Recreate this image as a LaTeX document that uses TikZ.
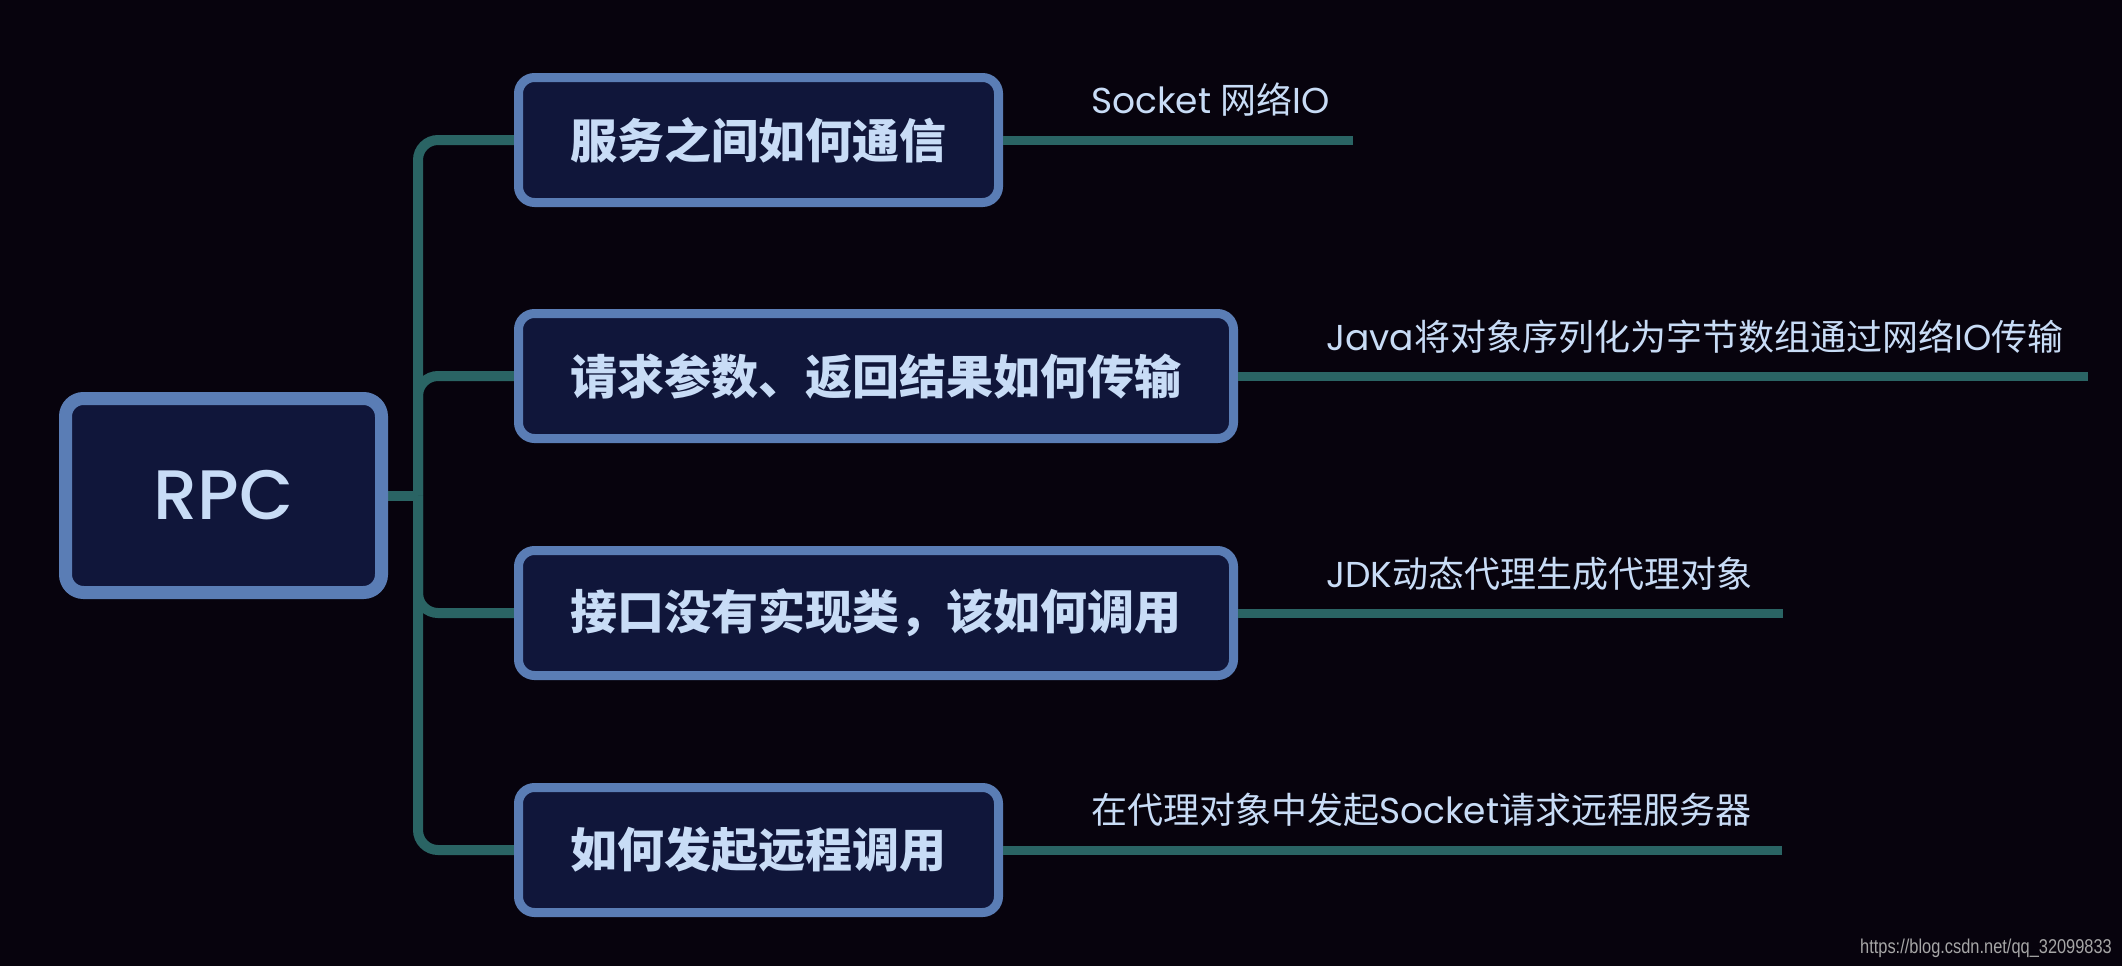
\documentclass[tikz,border=0pt]{standalone}
\usepackage{fontspec}
\setmainfont{Poppins}
\newfontfamily\rootfont{Poppins Medium}
\newfontfamily\cjk{Noto Sans CJK SC}
\newfontfamily\webfont{Liberation Sans}
\usetikzlibrary{backgrounds}
\definecolor{bgcol}{HTML}{07030D}
\definecolor{boxfill}{HTML}{10163A}
\definecolor{boxline}{HTML}{5A7DB5}
\definecolor{linkcol}{HTML}{2A6464}
\definecolor{txtcol}{HTML}{C8DCF6}
\newcommand{\zh}[1]{{\cjk #1}}
\begin{document}
\begin{tikzpicture}[
  x=1pt, y=-1pt,
  topic/.style={draw=boxline, fill=boxfill, line width=9pt, rounded corners=16pt,
    minimum height=125pt, text=txtcol, inner sep=0pt,
    font=\cjk\bfseries\fontsize{47}{56}\selectfont},
  root/.style={draw=boxline, fill=boxfill, line width=13pt, rounded corners=18pt,
    minimum width=316pt, minimum height=194pt, text=txtcol,
    font=\rootfont\fontsize{70}{80}\selectfont},
  branch/.style={draw=linkcol, line width=10pt, rounded corners=20pt},
  leaf/.style={draw=linkcol, line width=9pt},
  note/.style={anchor=base west, text=txtcol, inner sep=0pt,
    font=\fontsize{36}{42}\selectfont}
]
% Background
\begin{scope}[on background layer]
\fill[bgcol] (0,0) rectangle (2122,966);
\end{scope}

% Root
\node[root] (rpc) at (223.5,495.5) {RPC};

% Topics
\node[topic, minimum width=480pt] (b1) at (758.5,140) {服务之间如何通信};
\node[topic, minimum width=715pt] (b2) at (876,376) {请求参数、返回结果如何传输};
\node[topic, minimum width=715pt] (b3) at (876,613) {接口没有实现类，该如何调用};
\node[topic, minimum width=480pt] (b4) at (758.5,850) {如何发起远程调用};

% Trunk and branches
\coordinate (trunk) at (418,495.5);
\begin{scope}[on background layer]
\draw[branch] (rpc.east) -- (trunk);
\foreach \b in {b1,b2,b3,b4} {
  \draw[branch] (trunk) |- (\b.west);
}
\end{scope}

% Answers
\coordinate (e1) at (1353,140);
\coordinate (e2) at (2088,376);
\coordinate (e3) at (1783,613);
\coordinate (e4) at (1782,850);
\draw[leaf] (b1.east) -- (e1);
\draw[leaf] (b2.east) -- (e2);
\draw[leaf] (b3.east) -- (e3);
\draw[leaf] (b4.east) -- (e4);

\node[note] (l1) at (1091,113) {Socket \zh{网络}IO};
\node[note] (l2) at (1326,350) {Java\zh{将对象序列化为字节数组通过网络}IO\zh{传输}};
\node[note] (l3) at (1326,587) {JDK\zh{动态代理生成代理对象}};
\node[note] (l4) at (1091,823) {\zh{在代理对象中发起}Socket\zh{请求远程服务器}};

% Watermark
\node[anchor=base east, inner sep=0pt, text=gray!70, xscale=0.82,
  font=\webfont\fontsize{20}{24}\selectfont] (mark) at (2112,953)
  {https://blog.csdn.net/qq\_32099833};
\end{tikzpicture}
\end{document}
